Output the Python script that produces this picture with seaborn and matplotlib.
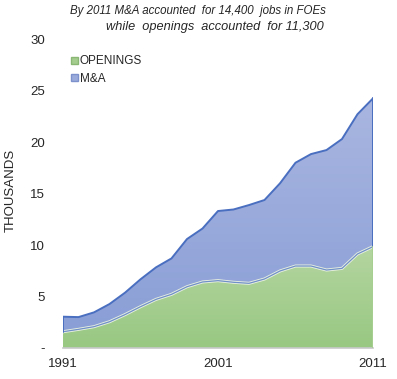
import matplotlib
matplotlib.use("Agg")
import matplotlib.pyplot as plt
import seaborn as sns
import numpy as np
import pandas as pd
from matplotlib.colors import LinearSegmentedColormap
from matplotlib.patches import Patch

years = list(range(1991, 2012))
openings = [1.58, 1.81, 2.07, 2.55, 3.24, 4.01, 4.72, 5.21, 5.95, 6.41, 6.54,
            6.38, 6.28, 6.70, 7.48, 7.96, 7.96, 7.57, 7.73, 9.13, 9.84]
mna = [1.46, 1.19, 1.39, 1.72, 2.13, 2.66, 3.11, 3.49, 4.63, 5.19, 6.76,
       7.07, 7.60, 7.67, 8.51, 10.03, 10.87, 11.65, 12.56, 13.57, 14.40]
series_names = ["OPENINGS", "M&A"]
ytick_vals = [0, 5, 10, 15, 20, 25, 30]
ytick_labels = ["-", "5", "10", "15", "20", "25", "30"]
xtick_labels = ["1991", "2001", "2011"]

df = pd.DataFrame({"year": years, "OPENINGS": openings, "M&A": mna})
df["total"] = df["OPENINGS"] + df["M&A"]

sns.set_style("white")
plt.rcParams["font.family"] = ["Liberation Sans", "DejaVu Sans"]

fig = plt.figure(figsize=(3.97, 3.79), dpi=100)
ax = fig.add_axes([0.1587, 0.0818, 0.7808, 0.8152])

green_cmap = LinearSegmentedColormap.from_list("g", ["#98c882", "#b4d5a0"])
blue_cmap = LinearSegmentedColormap.from_list("b", ["#889dd6", "#a9b6e0"])

def grad_fill(lower, upper, cmap):
    poly = ax.fill_between(df["year"], lower, upper, facecolor="none", edgecolor="none")
    grad = np.linspace(0, 1, 256).reshape(-1, 1)
    top = float(np.max(upper))
    im = ax.imshow(grad, extent=[years[0], years[-1], 0, top], origin="lower",
                   aspect="auto", cmap=cmap, zorder=1)
    im.set_clip_path(poly.get_paths()[0], transform=ax.transData)

grad_fill(0, df["OPENINGS"], green_cmap)
grad_fill(df["OPENINGS"], df["total"], blue_cmap)

# edges
sns.lineplot(x=df["year"], y=df["OPENINGS"], ax=ax, color="#e8f0e0", lw=2.2, zorder=3)
sns.lineplot(x=df["year"], y=df["OPENINGS"], ax=ax, color="#6f8fc8", lw=0.9, zorder=4)
sns.lineplot(x=df["year"], y=df["total"], ax=ax, color="#4a6fc0", lw=1.4, zorder=4)
ax.plot([years[0], years[0]], [openings[0], df["total"].iloc[0]], color="#4a6fc0", lw=1.4, zorder=4)
ax.plot([years[-1], years[-1]], [openings[-1], df["total"].iloc[-1]], color="#4a6fc0", lw=1.4, zorder=4)
ax.plot([years[-1], years[-1]], [0, openings[-1]], color="#a8cf92", lw=1.4, zorder=4)

ax.set_xlim(years[0], years[-1])
ax.set_ylim(0, 30)
ax.set_yticks(ytick_vals)
ax.set_yticklabels(ytick_labels, fontsize=9.5)
ax.set_xticks(years, minor=True)
ax.set_xticks([1991, 2001, 2011])
ax.set_xticklabels(xtick_labels, fontsize=9.5)
ax.tick_params(axis="y", length=0, pad=13)
ax.tick_params(axis="x", which="both", length=4, color="#c8c8c8", width=0.8, direction="out", pad=3)
for s in ["top", "right", "left"]:
    ax.spines[s].set_visible(False)
ax.spines["bottom"].set_color("#c8c8c8")
ax.spines["bottom"].set_linewidth(1.2)
ax.set_xlabel("")
ax.set_ylabel("THOUSANDS", fontsize=9.5)
ax.yaxis.set_label_coords(-0.148, 0.51)

# legend
handles = [Patch(facecolor="#a3cc8e", edgecolor="#8ab874"),
           Patch(facecolor="#9aaadb", edgecolor="#7d92cc")]
ax.legend(handles, series_names, loc="upper left", bbox_to_anchor=(0.012, 0.962),
          frameon=False, fontsize=8.5, handlelength=0.55, handleheight=0.55,
          handletextpad=0.15, labelspacing=0.45, borderaxespad=0)

fig.text(0.82, 0.971, "By 2011 M&A accounted  for 14,400  jobs in FOEs",
         style="italic", fontsize=8.3, ha="right", va="center")
fig.text(0.815, 0.929, "while  openings  accounted  for 11,300",
         style="italic", fontsize=9.2, ha="right", va="center")

fig.savefig("out.png", dpi=100)
